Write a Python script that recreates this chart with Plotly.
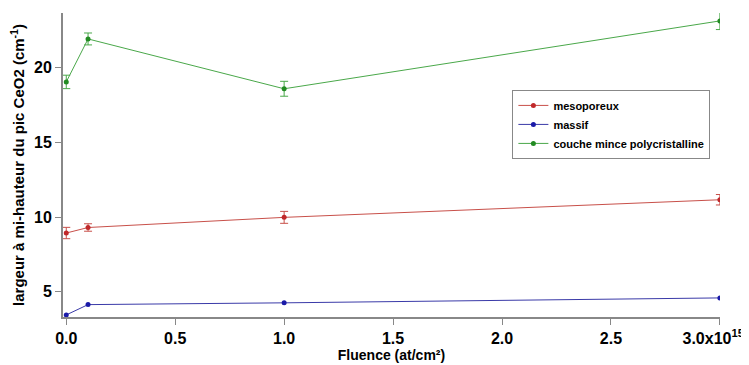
import plotly.graph_objects as go

# Fluence (en unités de 1e15 at/cm²)
fluence = [0.0, 0.1, 1.0, 3.0]

meso = [8.93, 9.30, 9.98, 11.16]
meso_err = [0.38, 0.25, 0.40, 0.35]

massif = [3.44, 4.13, 4.25, 4.58]

couche = [19.06, 21.94, 18.60, 23.15]
couche_err = [0.45, 0.40, 0.50, 0.58]

x_ticks = [0.0, 0.5, 1.0, 1.5, 2.0, 2.5, 3.0]
x_ticktext = ["0.0", "0.5", "1.0", "1.5", "2.0", "2.5",
              "3.0x10<sup>15</sup>\u00a0\u00a0\u00a0"]
y_ticks = [5, 10, 15, 20]

fig = go.Figure()

fig.add_trace(go.Scatter(
    x=fluence, y=meso, mode='lines+markers', name='mesoporeux',
    line=dict(color='#c8504a', width=1),
    marker=dict(color='#c0282a', size=5),
    error_y=dict(type='data', array=meso_err, color='#c8504a', thickness=1, width=4)
))
fig.add_trace(go.Scatter(
    x=fluence, y=massif, mode='lines+markers', name='massif',
    line=dict(color='#3a3aa8', width=1),
    marker=dict(color='#1a1aa8', size=5)
))
fig.add_trace(go.Scatter(
    x=fluence, y=couche, mode='lines+markers', name='couche mince polycristalline',
    line=dict(color='#4aa84a', width=1),
    marker=dict(color='#228b22', size=5),
    error_y=dict(type='data', array=couche_err, color='#4aa84a', thickness=1, width=4)
))

# la page ajoute une marge de 8 px autour de la figure
fig.update_layout(
    width=741, height=357,
    margin=dict(l=55, r=29, t=5, b=48),
    plot_bgcolor='white', paper_bgcolor='white',
    font=dict(family='Liberation Sans, Arial', color='black'),
    showlegend=True,
    legend=dict(
        x=0.684, y=0.747, xanchor='left', yanchor='top',
        bordercolor='#888888', borderwidth=1, bgcolor='white',
        font=dict(size=11, family='Liberation Sans, Arial', weight='bold'),
        tracegroupgap=0, itemwidth=30
    ),
    xaxis=dict(
        range=[-0.015, 3.0005], tickvals=x_ticks, ticktext=x_ticktext,
        showline=True, linecolor='#888888', linewidth=2,
        ticks='outside', ticklen=6, tickcolor='#888888',
        showgrid=False, zeroline=False, automargin=False,
        ticklabeloverflow='allow',
        tickfont=dict(size=16, weight='bold'),
        title=dict(text='Fluence (at/cm²)', font=dict(size=14, weight='bold'), standoff=4)
    ),
    yaxis=dict(
        range=[3.3, 23.68], tickvals=y_ticks,
        showline=True, linecolor='#888888', linewidth=2,
        ticks='outside', ticklen=6, tickcolor='#888888',
        showgrid=False, zeroline=False, automargin=False,
        tickfont=dict(size=16, weight='bold'),
        title=dict(text='largeur à mi-hauteur du pic CeO2 (cm<sup>-1</sup>)',
                   font=dict(size=15, weight='bold'), standoff=6)
    )
)

fig.write_html("out.html")
